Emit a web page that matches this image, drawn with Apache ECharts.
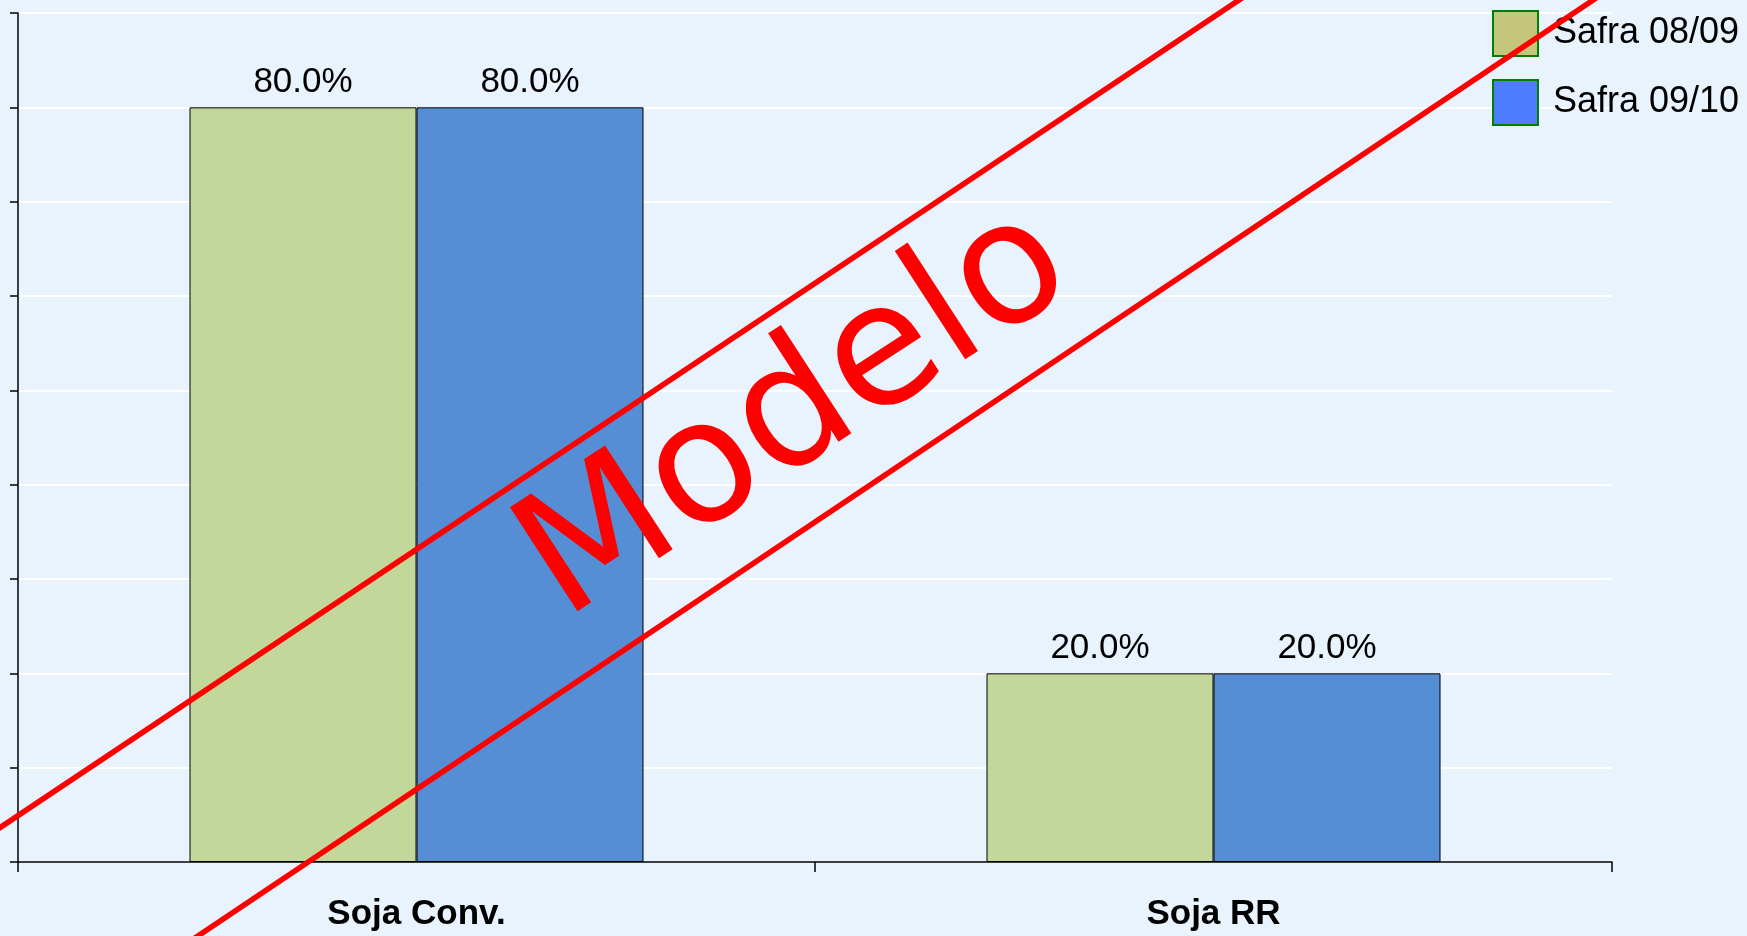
<!DOCTYPE html>
<html>
<head>
<meta charset="utf-8">
<script src="https://cdn.jsdelivr.net/npm/echarts@6/dist/echarts.min.js"></script>
<style>
  html, body { margin: 0; padding: 0; background: #E9F3FD; }
  #chart { width: 1747px; height: 936px; }
</style>
</head>
<body>
<div id="chart"></div>
<script>
  const categories = ['Soja Conv.', 'Soja RR'];
  const safra0809 = [80.0, 20.0];
  const safra0910 = [80.0, 20.0];
  const seriesNames = ['Safra 08/09', 'Safra 09/10'];

  const barColors = ['#C4D79B', '#558ED5'];
  const legendColors = ['#C3C67B', '#4D7CFE'];
  const font = '"Liberation Sans", Arial, sans-serif';

  function pct(params) {
    return params.value.toFixed(1) + '%';
  }

  function makeBar(name, data, color) {
    return {
      type: 'bar',
      name: name,
      data: data,
      barWidth: 227,
      barGap: '0%',
      itemStyle: {color: color, borderColor: '#000', borderWidth: 1},
      label: {
        show: true,
        position: 'top',
        distance: 7,
        formatter: pct,
        color: '#000',
        fontSize: 35,
        fontFamily: font
      }
    };
  }

  const chart = echarts.init(document.getElementById('chart'));

  const option = {
    backgroundColor: '#E9F3FD',
    animation: false,
    grid: {left: 18, right: 135, top: 13, bottom: 74, outerBoundsMode: 'none'},
    legend: {
      orient: 'vertical',
      left: 1492,
      top: 10,
      padding: 0,
      itemWidth: 45,
      itemHeight: 45,
      itemGap: 22,
      icon: 'rect',
      textStyle: {color: '#000', fontSize: 36, fontFamily: font, padding: [0, 0, 0, 10]},
      data: seriesNames.map((n, i) => ({
        name: n,
        itemStyle: {color: legendColors[i], borderColor: '#008000', borderWidth: 2}
      }))
    },
    xAxis: {
      type: 'category',
      data: categories,
      axisLine: {lineStyle: {color: '#000', width: 1.5}},
      axisTick: {show: true, length: 10, lineStyle: {color: '#000', width: 1.5}},
      axisLabel: {
        color: '#000', fontSize: 35, lineHeight: 34, fontWeight: 'bold', fontFamily: font,
        margin: 52, verticalAlign: 'middle'
      }
    },
    yAxis: {
      type: 'value',
      min: 0,
      max: 90,
      interval: 10,
      axisLine: {show: true, lineStyle: {color: '#000', width: 1.5}},
      axisTick: {show: true, length: 8, lineStyle: {color: '#000', width: 1.5}},
      axisLabel: {show: false},
      splitLine: {lineStyle: {color: '#FFFFFF', width: 2}}
    },
    series: [
      makeBar(seriesNames[0], safra0809, barColors[0]),
      makeBar(seriesNames[1], safra0910, barColors[1])
    ],
    // "Modelo" watermark over the chart
    graphic: [
      {
        type: 'line', z: 100, silent: true,
        shape: {x1: -20, y1: 841, x2: 1260, y2: -14},
        style: {stroke: '#FF0000', lineWidth: 5.5}
      },
      {
        type: 'line', z: 100, silent: true,
        shape: {x1: 180, y1: 948, x2: 1620, y2: -18},
        style: {stroke: '#FF0000', lineWidth: 5.5}
      },
      {
        type: 'text', z: 100, silent: true,
        x: 797, y: 416,
        rotation: 33 * Math.PI / 180,
        style: {
          text: 'Modelo',
          fill: '#FF0000',
          font: '170px "DejaVu Sans", sans-serif',
          textAlign: 'center',
          textVerticalAlign: 'middle'
        }
      }
    ]
  };

  chart.setOption(option);
</script>
</body>
</html>
